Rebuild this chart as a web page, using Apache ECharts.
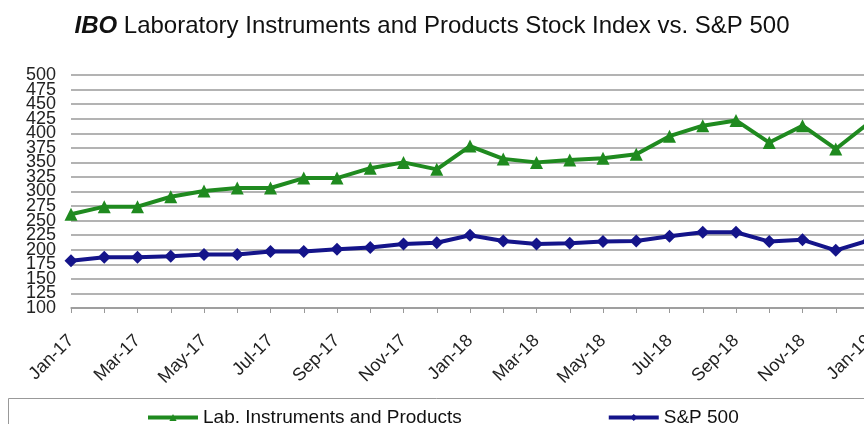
<!DOCTYPE html>
<html><head><meta charset="utf-8">
<script src="https://cdn.jsdelivr.net/npm/echarts@6/dist/echarts.min.js"></script>
<style>html,body{margin:0;padding:0;background:#fff}#c{width:864px;height:424px}</style>
</head><body><div id="c"></div>
<script>
const months = ['Jan-17','Feb-17','Mar-17','Apr-17','May-17','Jun-17','Jul-17','Aug-17','Sep-17','Oct-17','Nov-17','Dec-17',
  'Jan-18','Feb-18','Mar-18','Apr-18','May-18','Jun-18','Jul-18','Aug-18','Sep-18','Oct-18','Nov-18','Dec-18','Jan-19'];
const labInstruments = [261,274,274,291,301,306,306,323,323,340,350,338,378,356,350,354,357,364,395,413,422,384,413,373,418];
const sp500 = [181,187,187,189,192,192,197,197,201,204,210,212,225,215,210,211,214,215,223,230,230,214,217,199,216];
const seriesNames = ['Lab. Instruments and Products','S&P 500'];
const yMin = 100, yMax = 500, yStep = 25;

const yLabelBase = { fontSize: 18, color: '#222', margin: 15, showMinLabel: true, showMaxLabel: true, hideOverlap: false };
function yAxisPart(parity, showSplit) {
  return {
    type: 'value', min: yMin, max: yMax, interval: yStep, position: 'left', offset: 0,
    axisLine: { show: false }, axisTick: { show: false },
    axisLabel: Object.assign({}, yLabelBase, {
      formatter: v => (((v - yMin) / yStep) % 2 === parity ? String(v) : '')
    }),
    splitLine: { show: showSplit, lineStyle: { color: '#9a9a9a', width: 1.5 } }
  };
}

const chart = echarts.init(document.getElementById('c'));
chart.setOption({
  animation: false,
  backgroundColor: '#fff',
  textStyle: { fontFamily: 'Liberation Sans, Arial, sans-serif' },
  title: {
    text: '{b|IBO} Laboratory Instruments and Products Stock Index vs. S&P 500',
    left: 'center', top: 9,
    textStyle: {
      fontSize: 24, fontWeight: 'normal', color: '#111', fontFamily: 'Liberation Sans',
      rich: { b: { fontSize: 24, fontWeight: 'bold', fontStyle: 'italic', color: '#111', fontFamily: 'Liberation Sans' } }
    }
  },
  grid: { left: 71, top: 75, width: 798, height: 233, outerBoundsMode: 'none', containLabel: false },
  xAxis: {
    type: 'category', data: months, boundaryGap: false,
    axisLine: { show: true, lineStyle: { color: '#999', width: 1.5 } },
    axisTick: { show: true, interval: 0, length: 5, lineStyle: { color: '#999' } },
    axisLabel: { interval: 1, rotate: 45, fontSize: 18, color: '#222', margin: 30, hideOverlap: false },
    splitLine: { show: false }
  },
  yAxis: [yAxisPart(0, true), yAxisPart(1, false)],
  legend: {
    left: 141, top: 403, itemGap: 145, itemWidth: 50, itemHeight: 9,
    lineStyle: { width: 4 },
    textStyle: { fontSize: 19, color: '#111' },
    data: seriesNames
  },
  graphic: [{ type: 'rect', shape: { x: 8.5, y: 398.5, width: 880, height: 40 }, style: { fill: 'none', stroke: '#999', lineWidth: 1 }, silent: true }],
  series: [
    { name: seriesNames[0], type: 'line', data: labInstruments, symbol: 'triangle', symbolSize: 13, yAxisIndex: 0,
      lineStyle: { color: '#1f8a1f', width: 4 }, itemStyle: { color: '#1f8a1f' }, z: 3 },
    { name: seriesNames[1], type: 'line', data: sp500, symbol: 'diamond', symbolSize: 13, yAxisIndex: 0,
      lineStyle: { color: '#14148a', width: 4 }, itemStyle: { color: '#14148a' }, z: 3 }
  ]
});
</script></body></html>
